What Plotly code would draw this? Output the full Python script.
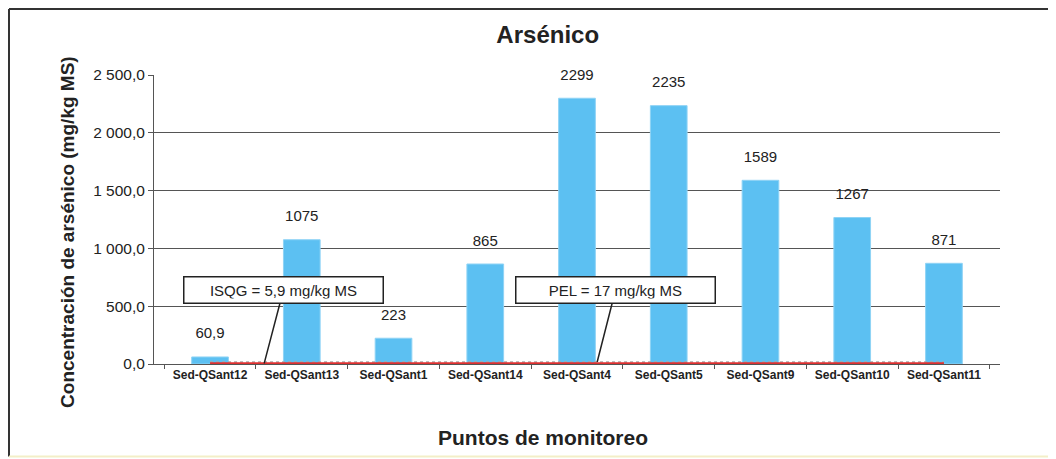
import plotly.graph_objects as go

puntos = ["Sed-QSant12", "Sed-QSant13", "Sed-QSant1", "Sed-QSant14", "Sed-QSant4",
          "Sed-QSant5", "Sed-QSant9", "Sed-QSant10", "Sed-QSant11"]
arsenico = [60.9, 1075, 223, 865, 2299, 2235, 1589, 1267, 871]
etiquetas = ["60,9", "1075", "223", "865", "2299", "2235", "1589", "1267", "871"]
isqg = [5.9] * len(puntos)
pel = [17] * len(puntos)

fig = go.Figure()
fig.add_trace(go.Bar(x=puntos, y=arsenico, marker_color="#5cc0f2",
                     marker_line=dict(color="#8fd3f5", width=1), width=0.4))
fig.add_trace(go.Scatter(x=puntos, y=pel, mode="lines",
                         line=dict(color="#a8a8a8", width=1.5, dash="dot")))
fig.add_trace(go.Scatter(x=puntos, y=isqg, mode="lines", line=dict(color="#e03030", width=2)))
# data labels floated above the bars
fig.add_trace(go.Scatter(x=puntos, y=arsenico, mode="markers+text", text=etiquetas,
                         textposition="top center", marker=dict(size=22, opacity=0),
                         textfont=dict(size=15, color="#222"), hoverinfo="skip",
                         cliponaxis=False))

# callout boxes
callouts = [("ISQG = 5,9 mg/kg MS", 0.59, 5.9, 0.8), ("PEL = 17 mg/kg MS", 4.22, 17, 4.42)]
for txt, xp, yp, xb in callouts:
    fig.add_annotation(x=xp, y=yp, ax=xb, ay=640, axref="x", ayref="y", text=txt,
                       showarrow=True, arrowhead=0, arrowwidth=1.5, arrowcolor="#222",
                       bordercolor="#222", borderwidth=1.5, borderpad=4, bgcolor="white",
                       font=dict(size=15, color="#222"), width=190)

fig.add_annotation(text="<b>Puntos de monitoreo</b>", xref="paper", yref="paper", x=0.46, y=-0.2526,
                   xanchor="center", yanchor="middle", showarrow=False, font=dict(size=21))
fig.add_annotation(text="<b>Concentración de arsénico (mg/kg MS)</b>", xref="paper", yref="paper",
                   x=-0.1017, y=0.457, xanchor="center", yanchor="middle", textangle=-90,
                   showarrow=False, font=dict(size=19))

# frame around the chart (left and top edges, faint bottom)
fig.add_shape(type="line", xref="paper", yref="paper", x0=-0.1714, x1=-0.1714, y0=-0.32, y1=1.228,
              line=dict(color="#333", width=2))
fig.add_shape(type="line", xref="paper", yref="paper", x0=-0.1714, x1=1.07, y0=1.228, y1=1.228,
              line=dict(color="#333", width=2))
fig.add_shape(type="line", xref="paper", yref="paper", x0=-0.1714, x1=1.07, y0=-0.32, y1=-0.32,
              line=dict(color="#f3efc8", width=2))

fig.update_layout(
    width=1048, height=451, template="plotly_white", showlegend=False,
    separators=", ", plot_bgcolor="white", paper_bgcolor="white",
    font=dict(family="Liberation Sans, Arial", color="#222"),
    margin=dict(l=146, r=56, t=67, b=95),
    title=dict(text="<b>Arsénico</b>", x=0.515, xanchor="center", y=0.94, yanchor="middle",
               font=dict(size=24)),
    bargap=0.6,
)
fig.update_yaxes(range=[0, 2500], dtick=500, tickformat=",.1f", showgrid=True,
                 gridcolor="#555", gridwidth=1, showline=True, linecolor="#555",
                 ticks="outside", ticklen=5, tickcolor="#555", tickfont=dict(size=15.5),
                 zeroline=False)
fig.update_xaxes(showline=True, linecolor="#555", ticks="outside", tickson="boundaries",
                 ticklen=4, tickcolor="#555", tickfont=dict(size=12),
                 tickvals=puntos, ticktext=["<b>%s</b>" % p for p in puntos])

fig.write_html("out.html")
